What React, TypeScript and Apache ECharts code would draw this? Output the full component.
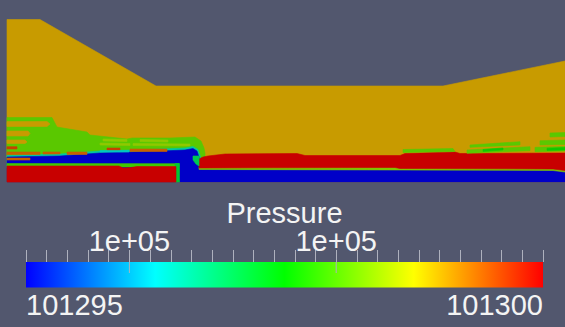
import React, { useEffect, useRef } from 'react';
import * as echarts from 'echarts';

// ---- Domain (metres) ----
const domainExtentX = [0, 558];
const domainExtentY = [0, 163];

// ---- Colour map ----
const pressureRange = [101295, 101300];
const colormapStops = ['#0000ff', '#00ffff', '#00ff00', '#ffff00', '#ff0000'];
// same map as rendered on the lit surface (diffuse shading ~0.78)
const shadedStops = ['#0000c8', '#00c8c8', '#00c800', '#c8c800', '#c80000'];

// ---- Colour bar ----
const colorbarTitle = 'Pressure';
const colorbarMinorStep = 0.2;
const colorbarMajorTicks = [101296, 101298];
const colorbarMajorLabel = '1e+05';
const colorbarEndStep = 5;

// ---- Field regions: polygon (x, y in metres) and pressure (Pa) ----
const regionNames = [
  'domain', 'greenZone', 'mustardStripe1', 'mustardStripe2', 'mustardStripe3',
  'limeStripe1', 'limeStripe2', 'limeStripe3', 'limeStripe4',
  'cyanEdge', 'blueLayer', 'leftGreenLine', 'verticalFront', 'lowerRedLeft',
  'upperRedEdge', 'upperRed', 'redTipNotch',
  'stripeA', 'stripeB', 'stripeC', 'stripeCcore', 'stripeD', 'stripeE', 'stripeEcore', 'stripeF',
  'orange1', 'orange2', 'orange3', 'orange4', 'orange5', 'orange6', 'orange7', 'cyanStripe',
];

const regionPressure = [
  101299.03, 101298.06, 101299.03, 101299.03, 101299.03,
  101298.4, 101298.4, 101298.4, 101298.4,
  101296.5, 101295, 101297.9, 101297.2, 101300,
  101298.3, 101300, 101297.0,
  101298.06, 101298.06, 101298.06, 101297.6, 101298.06, 101298.06, 101297.6, 101298.06,
  101299.6, 101299.4, 101299.4, 101299.4, 101299.4, 101299.6, 101299.4, 101296.3,
];

const regionPoints = [
  [[0, 0], [0, 162.5], [33, 162.5], [149, 96], [436, 96], [558, 121], [558, 0]],
  [[0, 64.5], [45, 64.5], [50, 55], [80, 50], [83, 47], [120, 43], [125, 44], [163, 44], [188, 45], [194, 41], [197, 34], [198, 29], [198, 22], [0, 22]],
  [[0, 60.5], [40, 60.5], [43, 58], [40, 55.5], [0, 55.5]],
  [[0, 51], [21, 51], [23, 48.5], [21, 46], [0, 46]],
  [[0, 42], [18, 42], [20, 40], [18, 38.5], [0, 38.5]],
  [[96, 43], [120, 42.5], [120, 40.5], [96, 41]],
  [[133, 42.5], [161, 42], [161, 40], [133, 40.5]],
  [[93, 39], [123, 38.5], [123, 36.5], [93, 37]],
  [[126, 38.5], [183, 38], [183, 36], [126, 36.5]],
  [[0, 26.5], [53, 28], [93, 31], [143, 32.5], [178, 34], [186, 35.5], [191, 32.5], [193.5, 25], [193.5, 14], [0, 14]],
  [[0, 25], [53, 26], [93, 29], [143, 30.5], [178, 32], [186, 33.5], [190, 31], [192, 25], [192, 14], [393, 14], [558, 12], [558, 0], [0, 0]],
  [[0, 18.5], [172, 18.3], [172, 15], [0, 15]],
  [[168, 18.5], [172.5, 18.5], [172.5, 0], [168, 0]],
  [[0, 16], [112, 16], [116, 14], [124, 14.5], [130, 15.5], [169, 15.5], [169, 0], [0, 0]],
  [[192, 15], [388, 15.5], [393, 14.5], [546, 14], [558, 12.5], [558, 10], [546, 11.5], [393, 12], [192, 12.5]],
  [[192, 14], [192, 23], [196, 25], [201, 26], [218, 28], [290, 28.5], [298, 26.5], [393, 26.5], [398, 28.5], [448, 30], [453, 28.5], [558, 29], [558, 11.5], [546, 13], [393, 13.5], [388, 14.5]],
  [[186, 26], [192, 26], [192, 16], [189, 18], [186, 22]],
  [[396, 29.5], [396, 32.5], [446, 33.5], [448, 30.5]],
  [[463, 34.7], [463, 37], [513, 40.3], [513, 37]],
  [[460, 28.7], [460, 32], [523, 35.3], [523, 31.3]],
  [[476, 30.5], [476, 32.5], [496, 34], [496, 32]],
  [[533, 37], [533, 41.3], [558, 42], [558, 37.5]],
  [[528, 30.3], [528, 34.7], [558, 35.5], [558, 31]],
  [[540, 31.5], [540, 33.8], [558, 34.5], [558, 32]],
  [[543, 45], [543, 49], [558, 49.5], [558, 45.5]],
  [[0, 33], [10, 33], [10, 35.3], [0, 35.3]],
  [[0, 27.5], [33, 27.5], [33, 30], [0, 30]],
  [[36, 28], [53, 28], [53, 30], [36, 30]],
  [[0, 22], [23, 22], [23, 24], [0, 24]],
  [[60, 27.5], [80, 27.5], [80, 30], [60, 30]],
  [[100, 31.5], [113, 31.5], [113, 34], [100, 34]],
  [[123, 30.5], [160, 30.5], [160, 33], [123, 33]],
  [[93, 30], [122, 30], [122, 31.5], [93, 31.5]],
];

const FONT = "'Liberation Sans', Arial, sans-serif";
const TEXT = '#f4f4f4';
const TICK = '#aeb1be';

export default function App() {
  const ref = useRef<HTMLDivElement>(null);

  useEffect(() => {
    if (!ref.current) return;
    const chart = echarts.init(ref.current, null, { renderer: 'svg' });
    const isMajor = (v: number) => colorbarMajorTicks.some((t) => Math.abs(t - v) < 1e-6);

    chart.setOption({
      animation: false,
      backgroundColor: '#52576e',
      grid: [
        { left: 7, top: 19, width: 558, height: 163 },
        { left: 26, top: 262, width: 517, height: 25.5 },
        { left: 26, top: 250, width: 517, height: 12 },
      ],
      xAxis: [
        { gridIndex: 0, type: 'value', min: domainExtentX[0], max: domainExtentX[1], show: false },
        {
          gridIndex: 1, type: 'value', position: 'top',
          min: pressureRange[0], max: pressureRange[1], interval: colorbarMinorStep,
          axisLine: { show: false }, splitLine: { show: false }, axisTick: { show: false },
          axisLabel: {
            show: true, margin: 7, color: TEXT, fontSize: 29, fontFamily: FONT,
            formatter: (v: number) => (isMajor(v) ? colorbarMajorLabel : ''),
          },
        },
        {
          gridIndex: 1, type: 'value', position: 'bottom',
          min: pressureRange[0], max: pressureRange[1], interval: colorbarEndStep,
          axisLine: { show: false }, splitLine: { show: false }, axisTick: { show: false },
          axisLabel: {
            show: true, margin: 3, color: TEXT, fontSize: 29, fontFamily: FONT,
            alignMinLabel: 'left', alignMaxLabel: 'right',
            formatter: (v: number) => String(Math.round(v)),
          },
        },
        {
          // tick row above the colour bar
          gridIndex: 2, type: 'value', position: 'top',
          min: pressureRange[0], max: pressureRange[1], interval: colorbarMinorStep,
          axisLine: { show: false }, axisTick: { show: false }, axisLabel: { show: false },
          splitLine: { show: true, lineStyle: { color: TICK, width: 1 } },
        },
      ],
      yAxis: [
        { gridIndex: 0, type: 'value', min: domainExtentY[0], max: domainExtentY[1], show: false },
        { gridIndex: 1, type: 'value', min: 0, max: 1, show: false },
        { gridIndex: 2, type: 'value', min: 0, max: 1, show: false },
      ],
      visualMap: {
        type: 'continuous', show: false, seriesIndex: 0, dimension: 1,
        min: pressureRange[0], max: pressureRange[1],
        inRange: { color: shadedStops },
      },
      graphic: [
        {
          type: 'text', x: 284.5, y: 213,
          style: { text: colorbarTitle, fill: TEXT, font: `29px ${FONT}`, align: 'center', verticalAlign: 'middle' },
        },
      ],
      series: [
        {
          type: 'custom', name: 'field', xAxisIndex: 0, yAxisIndex: 0,
          data: regionPressure.map((p, i) => [i, p]),
          renderItem: (params: any, api: any) => {
            const idx = api.value(0);
            const pts = regionPoints[idx].map((pt) => api.coord(pt));
            const c = api.visual('color');
            return { type: 'polygon', name: regionNames[idx], shape: { points: pts }, style: { fill: c, stroke: c, lineWidth: 0.6 } };
          },
        },
        {
          type: 'custom', name: 'colorbar', xAxisIndex: 1, yAxisIndex: 1,
          data: [[pressureRange[0], pressureRange[1]]],
          renderItem: (params: any, api: any) => {
            const a = api.coord([api.value(0), 1]);
            const b = api.coord([api.value(1), 0]);
            const n = colormapStops.length;
            return {
              type: 'rect',
              shape: { x: a[0], y: a[1], width: b[0] - a[0], height: b[1] - a[1] },
              style: {
                fill: new echarts.graphic.LinearGradient(0, 0, 1, 0,
                  colormapStops.map((c, k) => ({ offset: k / (n - 1), color: c }))),
              },
            };
          },
        },
        {
          type: 'custom', name: 'majorTicks', xAxisIndex: 1, yAxisIndex: 1,
          data: colorbarMajorTicks.map((v) => [v, 1]),
          renderItem: (params: any, api: any) => {
            const p = api.coord([api.value(0), 1]);
            return { type: 'line', shape: { x1: p[0], y1: p[1], x2: p[0], y2: p[1] + 11 }, style: { stroke: TICK, lineWidth: 1 } };
          },
        },
      ],
    });
    return () => chart.dispose();
  }, []);

  return <div ref={ref} style={{ position: 'fixed', left: 0, top: 0, width: 565, height: 327 }} />;
}
